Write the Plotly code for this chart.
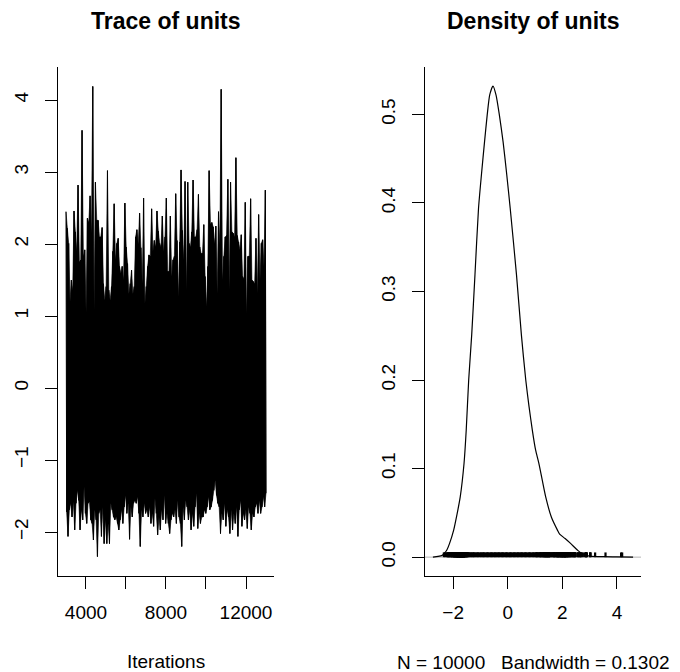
import numpy as np
import plotly.graph_objects as go

# ---------------- data ----------------
# thinned MCMC trace: alternating local highs / lows, iterations 3001..13000
trace_hi = [2.45, 2.22, 2.01, 1.20, 1.50, 1.36, 2.46, 2.17, 1.90, 2.82,
            1.75, 1.78, 3.58, 1.83, 1.92, 1.05, 2.36, 2.30, 2.67, 2.15,
            4.19, 1.08, 2.86, 2.33, 2.33, 2.10, 2.10, 2.23, 1.45, 1.22,
            1.41, 3.02, 1.36, 1.22, 1.41, 1.90, 2.56, 1.78, 2.01, 2.08,
            1.69, 1.60, 1.69, 1.50, 2.57, 1.96, 1.73, 1.31, 1.45, 1.64,
            1.31, 1.41, 2.10, 2.20, 2.00, 2.43, 1.95, 1.45, 2.64, 1.18,
            1.41, 1.69, 1.85, 1.83, 2.49, 1.90, 2.05, 1.96, 2.46, 2.18,
            2.01, 1.96, 2.39, 1.90, 2.10, 2.64, 1.62, 1.62, 2.39, 1.55,
            1.78, 1.83, 2.70, 2.05, 1.27, 2.03, 3.03, 2.19, 1.78, 2.87,
            1.36, 2.86, 2.01, 1.96, 2.17, 2.89, 2.10, 2.10, 2.20, 2.69,
            1.96, 1.87, 1.87, 2.27, 1.55, 1.13, 1.69, 3.02, 2.28, 2.30,
            2.24, 2.00, 2.25, 1.31, 2.45, 2.00, 4.15, 1.50, 1.83, 2.10,
            2.12, 2.90, 1.36, 2.86, 2.17, 2.15, 2.10, 3.20, 2.12, 2.03,
            1.92, 2.13, 1.55, 1.52, 2.58, 1.04, 1.83, 1.83, 2.63, 1.50,
            1.48, 1.45, 2.08, 1.31, 2.41, 1.50, 2.01, 2.06, 1.69, 2.75]
trace_lo = [-1.72, -2.06, -1.69, -1.60, -1.79, -1.58, -1.97, -1.60, -1.42, -1.56,
            -1.97, -1.69, -1.83, -1.37, -1.74, -1.88, -1.60, -1.58, -1.83, -1.88,
            -2.11, -1.69, -1.83, -2.34, -1.74, -1.69, -2.06, -1.65, -2.16, -1.83,
            -2.16, -1.88, -2.16, -1.60, -1.69, -1.79, -1.83, -1.79, -1.88, -1.97,
            -1.83, -1.69, -1.88, -1.65, -1.49, -1.74, -1.60, -2.10, -1.65, -1.79,
            -1.60, -1.56, -1.60, -1.51, -1.74, -2.20, -1.69, -1.79, -1.60, -1.74,
            -1.69, -1.79, -1.65, -1.88, -1.74, -1.92, -1.53, -1.74, -2.04, -1.79,
            -1.97, -1.69, -1.83, -1.49, -1.88, -1.74, -1.88, -2.02, -1.83, -1.74,
            -1.79, -1.69, -1.88, -1.56, -1.79, -1.88, -2.20, -1.65, -1.83, -1.56,
            -1.65, -1.83, -1.69, -1.97, -1.74, -1.92, -1.65, -1.46, -1.95, -1.74,
            -1.88, -1.79, -1.79, -1.69, -1.74, -1.65, -1.51, -1.69, -1.65, -1.56,
            -1.42, -1.28, -1.49, -1.60, -1.65, -2.02, -1.74, -1.83, -1.60, -1.92,
            -1.69, -1.79, -2.02, -1.69, -1.97, -1.74, -1.88, -1.65, -2.06, -1.69,
            -1.56, -1.92, -1.74, -1.83, -1.69, -1.95, -1.65, -1.74, -1.97, -1.74,
            -1.79, -1.65, -1.60, -1.74, -1.56, -1.74, -1.65, -1.51, -1.65, -1.46]
first_iter, last_iter = 3001, 13000

# sample values inside the band (hidden in the trace, visible in the rug)
obs_mid = [-2.31, -2.27, -2.22, -2.19, -2.13, -2.09, -2.04, -2.01, -1.95, -1.93,
           -1.35, -1.32, -1.26, -1.23, -1.21, -1.16, -1.12, -1.09, -1.07, -1.02,
           -0.98, -0.95, -0.91, -0.88, -0.86, -0.81, -0.77, -0.74, -0.72, -0.67,
           -0.63, -0.60, -0.58, -0.53, -0.49, -0.46, -0.44, -0.39, -0.35, -0.32,
           -0.30, -0.25, -0.21, -0.18, -0.16, -0.11, -0.07, -0.04, -0.02, 0.03,
           0.07, 0.10, 0.12, 0.17, 0.21, 0.24, 0.26, 0.31, 0.35, 0.38,
           0.40, 0.45, 0.49, 0.52, 0.54, 0.59, 0.63, 0.66, 0.68, 0.73,
           0.77, 0.80, 0.82, 0.87, 0.91, 0.94, 0.96, 1.01, 1.06, 1.10,
           1.15, 1.19, 1.24, 1.29, 1.33, 1.39, 1.43]

# kernel density estimate
dens_x = [-2.74, -2.55, -2.40, -2.30, -2.23, -2.13, -1.98, -1.86, -1.74, -1.60,
          -1.52, -1.43, -1.32, -1.20, -1.07, -0.96, -0.85, -0.75, -0.66, -0.54,
          -0.43, -0.31, -0.17, -0.04, 0.09, 0.32, 0.50, 0.66, 0.78, 0.90,
          1.02, 1.14, 1.39, 1.60, 1.82, 1.90, 2.10, 2.30, 2.55, 2.75,
          3.00, 3.50, 4.00, 4.59]
dens_y = [0.0, 0.0008, 0.002, 0.005, 0.008, 0.0155, 0.0305, 0.048, 0.068, 0.106,
          0.1435, 0.200, 0.251, 0.319, 0.394, 0.433, 0.469, 0.500, 0.522, 0.532,
          0.522, 0.500, 0.469, 0.433, 0.394, 0.319, 0.251, 0.200, 0.170, 0.1435,
          0.121, 0.106, 0.068, 0.045, 0.0305, 0.026, 0.021, 0.0155, 0.008, 0.003,
          0.0012, 0.0005, 0.0003, 0.0]
n_samples = 10000
bandwidth = 0.1302

trace_ticks = [4000, 6000, 8000, 10000, 12000]
trace_ticktext = ["4000", "", "8000", "", "12000"]
trace_yticks = [-2, -1, 0, 1, 2, 3, 4]
dens_xticks = [-2, 0, 2, 4]
dens_yticks = [0.0, 0.1, 0.2, 0.3, 0.4, 0.5]
dens_yticktext = ["0.0", "0.1", "0.2", "0.3", "0.4", "0.5"]

# ---------------- build ----------------
# the page body has an 8px margin, so the figure is drawn 8px in from the top-left
OFF = 8
W, H = 680 - OFF, 672 - OFF
FONT = "Liberation Sans, Arial, Helvetica, sans-serif"

vals = np.empty(2 * len(trace_hi))
vals[0::2] = trace_hi
vals[1::2] = trace_lo
iters = np.linspace(first_iter, last_iter, len(vals))

# area swept by the dense trace (highs forward, lows back)
band_x = np.concatenate([iters[0::2], iters[1::2][::-1]])
band_y = np.concatenate([vals[0::2], vals[1::2][::-1]])

obs = list(trace_hi) + list(trace_lo) + list(obs_mid)
rug_h = max(dens_y) / 100.0
rug_x, rug_y = [], []
for v in obs:
    rug_x += [v, v, None]
    rug_y += [0.0, rug_h, None]

fig = go.Figure()
fig.add_trace(go.Scatter(x=band_x, y=band_y, mode="lines", fill="toself",
                         fillcolor="black", line=dict(color="black", width=0.6, simplify=False),
                         xaxis="x", yaxis="y", hoverinfo="skip"))
fig.add_trace(go.Scatter(x=iters, y=vals, mode="lines",
                         line=dict(color="black", width=1, simplify=False),
                         xaxis="x", yaxis="y", hoverinfo="skip"))
fig.add_shape(type="line", xref="x2 domain", x0=0, x1=1, yref="y2", y0=0, y1=0,
              line=dict(color="#b4b4b4", width=1), layer="below")
fig.add_trace(go.Scatter(x=rug_x, y=rug_y, mode="lines",
                         line=dict(color="black", width=2.2, simplify=False),
                         xaxis="x2", yaxis="y2", hoverinfo="skip"))
fig.add_trace(go.Scatter(x=dens_x, y=dens_y, mode="lines",
                         line=dict(color="black", width=1.2, shape="spline",
                                   smoothing=0.6, simplify=False),
                         xaxis="x2", yaxis="y2"))

def px_x(a, b):
    return [(a - OFF) / W, (b - OFF) / W]

def px_y(top, bottom):
    return [1 - (bottom - OFF) / H, 1 - (top - OFF) / H]

axis_common = dict(showline=True, linecolor="black", linewidth=1, ticks="outside",
                   ticklen=12, tickwidth=1, tickcolor="black", showgrid=False,
                   zeroline=False, tickfont=dict(family=FONT, size=19, color="black"))

fig.update_layout(
    width=W, height=H, margin=dict(l=0, r=0, t=0, b=0),
    paper_bgcolor="white", plot_bgcolor="white", showlegend=False,
    xaxis=dict(domain=px_x(58, 274), range=[2601, 13400], anchor="y",
               tickmode="array", tickvals=trace_ticks, ticktext=trace_ticktext,
               ticklabelstandoff=7, **axis_common),
    yaxis=dict(domain=px_y(67, 576), range=[-2.61, 4.46], anchor="x",
               tickmode="array", tickvals=trace_yticks, tickangle=-90,
               ticklabelstandoff=9, **axis_common),
    xaxis2=dict(domain=px_x(425, 641), range=[-3.03, 4.88], anchor="y2",
                tickmode="array", tickvals=dens_xticks,
                ticklabelstandoff=7, **axis_common),
    yaxis2=dict(domain=px_y(67, 576), range=[-0.0213, 0.5535], anchor="x2",
                tickmode="array", tickvals=dens_yticks, ticktext=dens_yticktext,
                tickangle=-90, ticklabelstandoff=9, **axis_common),
)

def ann(text, cx, cy, size, bold=False):
    fig.add_annotation(text=f"<b>{text}</b>" if bold else text,
                       x=(cx - OFF) / W, y=1 - (cy - OFF) / H, xref="paper", yref="paper",
                       xanchor="center", yanchor="middle", showarrow=False,
                       font=dict(family=FONT, size=size, color="black"))

ann("Trace of units", (58 + 274) / 2, 21, 23, bold=True)
ann("Density of units", (425 + 641) / 2, 21, 23, bold=True)
ann("Iterations", (58 + 274) / 2, 661, 19)
ann(f"N = {n_samples}\u00a0\u00a0\u00a0Bandwidth = {bandwidth}", (425 + 641) / 2, 662, 19)

fig.write_html("out.html")
